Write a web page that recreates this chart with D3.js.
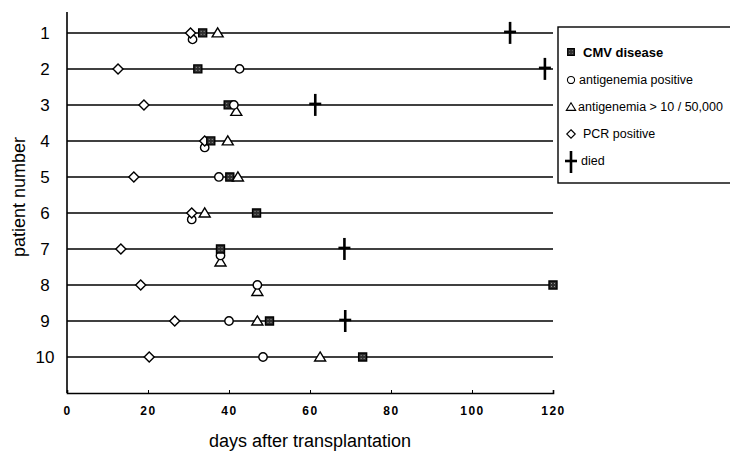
<!DOCTYPE html>
<html>
<head>
<meta charset="utf-8">
<script src="https://cdn.jsdelivr.net/npm/d3@7/dist/d3.min.js"></script>
<style>
  body { margin: 0; background: #fff; }
  svg { display: block; font-family: "Liberation Sans", Arial, sans-serif; }
</style>
</head>
<body>
<div id="chart"></div>
<script>
// patients 1..10, days after transplantation for each event (null = none)
const patients = [1, 2, 3, 4, 5, 6, 7, 8, 9, 10];
const pcrPositive     = [30.5, 12.6, 19.0, 34.0, 16.5, 30.8, 13.3, 18.2, 26.6, 20.3];
const cmvDisease      = [33.5, 32.3, 39.8, 35.5, 40.2, 46.8, 37.9, 120, 50.0, 73.0];
const antigenemiaPos  = [31.0, 42.6, 41.2, 34.0, 37.5, 30.8, 37.9, 47.0, 40.0, 48.4];
const antigenemiaHigh = [37.2, null, 41.8, 39.7, 42.2, 34.0, 37.9, 47.0, 47.0, 62.5];
const died            = [109.4, 118, 61.3, null, null, null, 68.5, null, 68.7, null];
const xTicks = [0, 20, 40, 60, 80, 100, 120];
const legendLabels = ["CMV disease", "antigenemia positive", "antigenemia > 10 / 50,000", "PCR positive", "died"];

const width = 730, height = 456;
const svg = d3.select("#chart").append("svg")
    .attr("width", width)
    .attr("height", height);

// dark fill with light speckle for the CMV squares
const defs = svg.append("defs");
const pat = defs.append("pattern")
    .attr("id", "speck")
    .attr("patternUnits", "userSpaceOnUse")
    .attr("width", 3).attr("height", 3);
pat.append("rect").attr("width", 3).attr("height", 3).attr("fill", "#2e2e2e");
pat.append("rect").attr("x", 1).attr("y", 1).attr("width", 1).attr("height", 1).attr("fill", "#9a9a9a");

const x = d3.scaleLinear().domain([0, 120]).range([67, 553]);
const y = d3.scaleLinear().domain([0.42, 11]).range([12, 393]);

// axes lines
svg.append("line")
    .attr("x1", x(0)).attr("x2", x(0))
    .attr("y1", y(0.42)).attr("y2", y(11))
    .attr("stroke", "#000").attr("stroke-width", 1.6);

const xAxis = svg.append("g")
    .attr("transform", `translate(0,${y(11)})`)
    .call(d3.axisBottom(x).tickValues(xTicks).tickSize(-3).tickPadding(13));
xAxis.select(".domain").attr("stroke", "#000").attr("stroke-width", 1.6);
xAxis.selectAll(".tick line").attr("stroke", "#000");
xAxis.selectAll(".tick text")
    .attr("font-size", 12)
    .attr("font-weight", "bold")
    .attr("letter-spacing", 1.5)
    .attr("font-family", "'Liberation Sans', Arial, sans-serif")
    .attr("fill", "#000");

// y tick labels
svg.selectAll("text.ylab")
    .data(patients)
    .enter().append("text")
    .attr("class", "ylab")
    .attr("x", 45)
    .attr("y", d => y(d))
    .attr("dy", "0.36em")
    .attr("text-anchor", "middle")
    .attr("font-size", 17)
    .text(d => d);

// patient timelines
svg.selectAll("line.row")
    .data(patients)
    .enter().append("line")
    .attr("class", "row")
    .attr("x1", x(0)).attr("x2", x(120))
    .attr("y1", d => y(d)).attr("y2", d => y(d))
    .attr("stroke", "#000").attr("stroke-width", 1.5);

// titles
svg.append("text")
    .attr("x", 310).attr("y", 447)
    .attr("text-anchor", "middle")
    .attr("font-size", 18)
    .text("days after transplantation");

svg.append("text")
    .attr("transform", "translate(25,197) rotate(-90)")
    .attr("text-anchor", "middle")
    .attr("font-size", 18)
    .text("patient number");

// marker shapes
const shapes = {
    pcr: "M0,-5L5,0L0,5L-5,0Z",
    cmv: "M-4,-4H4V4H-4Z",
    ag: d3.arc()({innerRadius: 0, outerRadius: 4.2, startAngle: 0, endAngle: 2 * Math.PI}),
    agHigh: "M0,-5L5.5,4L-5.5,4Z"
};
const fills = { pcr: "#fff", cmv: "url(#speck)", ag: "#fff", agHigh: "#fff" };
const order = { pcr: 0, cmv: 1, ag: 2, agHigh: 3 };

const series = [
    { key: "pcr", values: pcrPositive },
    { key: "cmv", values: cmvDisease },
    { key: "ag", values: antigenemiaPos },
    { key: "agHigh", values: antigenemiaHigh }
];

// collect events, stack coincident ones downward
let events = [];
patients.forEach((p, i) => {
    const row = [];
    series.forEach(s => {
        if (s.values[i] != null) row.push({ patient: p, type: s.key, day: s.values[i] });
    });
    row.sort((a, b) => a.day - b.day || order[a.type] - order[b.type]);
    row.forEach((e, j) => {
        e.level = row.slice(0, j).filter(o => Math.abs(o.day - e.day) < 1).length;
    });
    events = events.concat(row);
});
events.sort((a, b) => b.level - a.level);

svg.selectAll("path.mark")
    .data(events)
    .enter().append("path")
    .attr("class", "mark")
    .attr("d", d => shapes[d.type])
    .attr("transform", d => `translate(${x(d.day)},${y(d.patient) + d.level * 6.5})`)
    .attr("fill", d => fills[d.type])
    .attr("stroke", "#000")
    .attr("stroke-width", 1.4);

// died crosses
function cross(g) {
    g.append("line").attr("x1", 0).attr("x2", 0).attr("y1", -11).attr("y2", 11)
        .attr("stroke", "#000").attr("stroke-width", 2.6);
    g.append("line").attr("x1", -6).attr("x2", 6).attr("y1", -1).attr("y2", -1)
        .attr("stroke", "#000").attr("stroke-width", 2.6);
}
const deaths = patients.map((p, i) => ({ patient: p, day: died[i] })).filter(d => d.day != null);
deaths.forEach(d => {
    svg.append("g")
        .attr("transform", `translate(${x(d.day)},${y(d.patient)})`)
        .call(cross);
});

// legend
const legend = svg.append("g");
legend.append("rect")
    .attr("x", 558).attr("y", 27)
    .attr("width", 200).attr("height", 156)
    .attr("fill", "#fff")
    .attr("stroke", "#000").attr("stroke-width", 1.4);

const legendRows = [
    { type: "cmv", y: 52, tx: 583 },
    { type: "ag", y: 80, tx: 579 },
    { type: "agHigh", y: 107, tx: 578 },
    { type: "pcr", y: 134, tx: 583 },
    { type: "died", y: 161, tx: 581 }
];
legendRows.forEach((r, i) => {
    if (r.type === "died") {
        legend.append("g").attr("transform", `translate(571,${r.y + 1})`).call(cross);
    } else {
        legend.append("path")
            .attr("d", shapes[r.type])
            .attr("transform", `translate(571,${r.y}) scale(0.85)`)
            .attr("fill", fills[r.type])
            .attr("stroke", "#000")
            .attr("stroke-width", 1.3);
    }
    legend.append("text")
        .attr("x", r.tx).attr("y", r.y)
        .attr("dy", "0.35em")
        .attr("font-size", i === 0 ? 13 : 12.5)
        .attr("font-weight", i === 0 ? "bold" : "normal")
        .text(legendLabels[i]);
});
</script>
</body>
</html>
